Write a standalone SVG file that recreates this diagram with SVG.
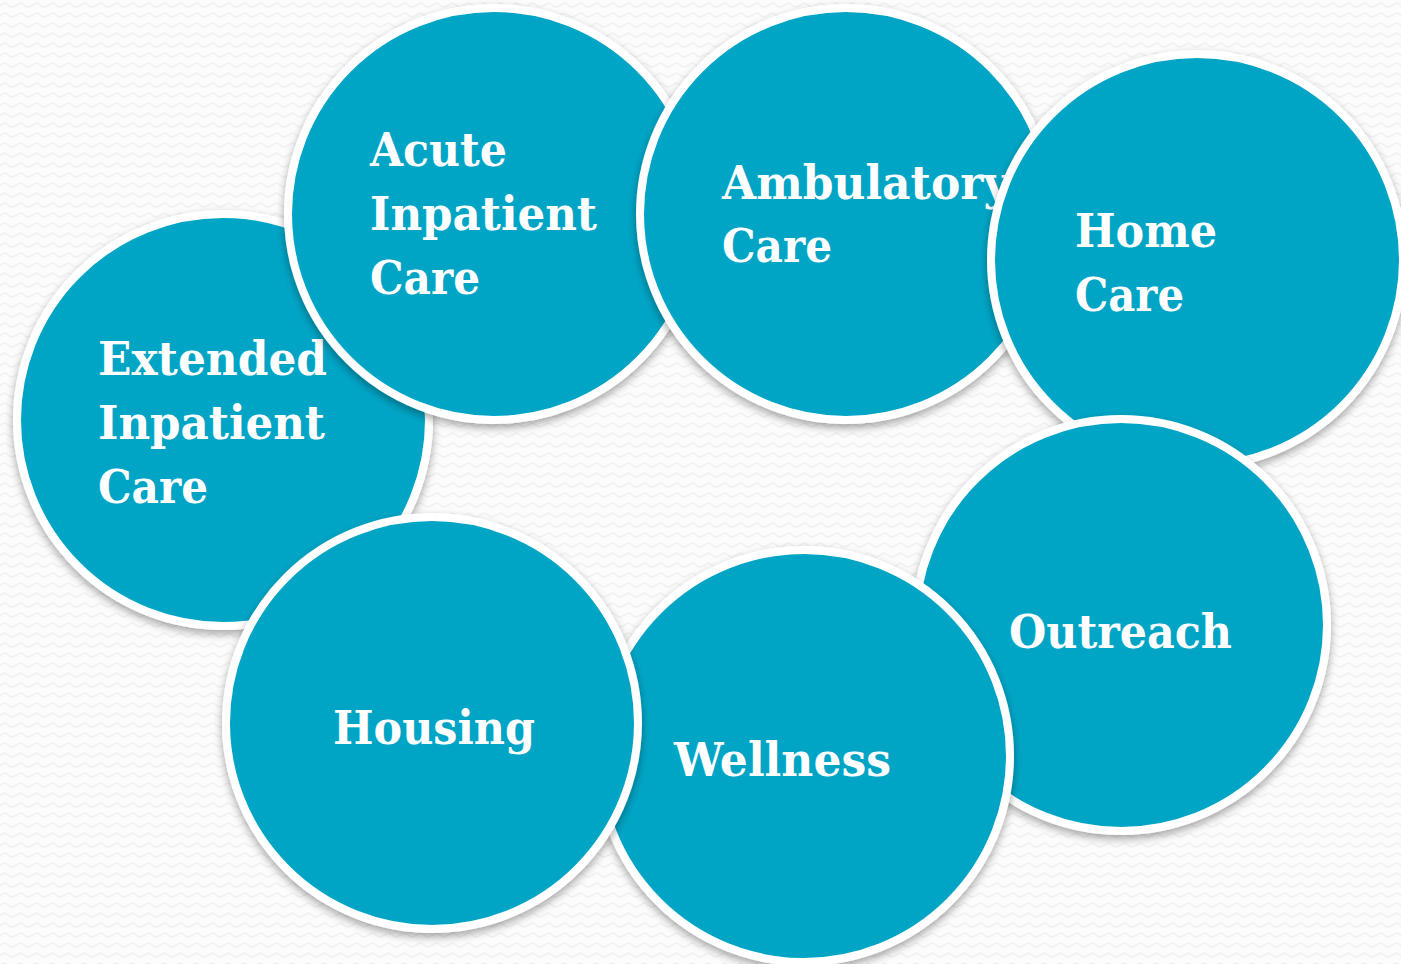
<svg xmlns="http://www.w3.org/2000/svg" width="1401" height="964" viewBox="0 0 1401 964">
  <defs>
    <pattern id="bg" width="16" height="10" patternUnits="userSpaceOnUse">
      <rect width="16" height="10" fill="#fcfcfc"/>
      <path d="M0 6 Q4 1 8 5 T16 5" fill="none" stroke="#f0f0f0" stroke-width="1.3"/>
    </pattern>
    <filter id="sh" x="-10%" y="-10%" width="120%" height="125%">
      <feDropShadow dx="0" dy="4" stdDeviation="4" flood-color="#000" flood-opacity="0.35"/>
    </filter>
  </defs>
  <style>
    .c { fill: #02a5c6; stroke: #ffffff; stroke-width: 8; filter: url(#sh); }
    .t { fill: #ffffff; font-family: "DejaVu Serif", "Liberation Serif", serif; font-weight: bold; font-size: 46px; }
  </style>
  <rect width="1401" height="964" fill="url(#bg)"/>
  <g id="connectors"/>
  <g id="extended">
    <circle class="c" cx="223" cy="420" r="206"/>
    <text class="t" x="98" y="375" textLength="229" lengthAdjust="spacingAndGlyphs">Extended</text>
    <text class="t" x="98" y="439" textLength="227" lengthAdjust="spacingAndGlyphs">Inpatient</text>
    <text class="t" x="98" y="503" textLength="110" lengthAdjust="spacingAndGlyphs">Care</text>
  </g>
  <g id="acute">
    <circle class="c" cx="494" cy="214" r="206"/>
    <text class="t" x="370" y="166" textLength="137" lengthAdjust="spacingAndGlyphs">Acute</text>
    <text class="t" x="370" y="230" textLength="227" lengthAdjust="spacingAndGlyphs">Inpatient</text>
    <text class="t" x="370" y="294" textLength="110" lengthAdjust="spacingAndGlyphs">Care</text>
  </g>
  <g id="ambulatory">
    <circle class="c" cx="846" cy="214" r="206"/>
    <text class="t" x="722" y="199" textLength="287" lengthAdjust="spacingAndGlyphs">Ambulatory</text>
    <text class="t" x="722" y="262" textLength="110" lengthAdjust="spacingAndGlyphs">Care</text>
  </g>
  <g id="home">
    <circle class="c" cx="1197" cy="260" r="206"/>
    <text class="t" x="1075" y="247" textLength="142" lengthAdjust="spacingAndGlyphs">Home</text>
    <text class="t" x="1075" y="311" textLength="109" lengthAdjust="spacingAndGlyphs">Care</text>
  </g>
  <g id="outreach">
    <circle class="c" cx="1121" cy="625" r="206"/>
    <text class="t" x="1009" y="648" textLength="223" lengthAdjust="spacingAndGlyphs">Outreach</text>
  </g>
  <g id="wellness">
    <circle class="c" cx="804" cy="756" r="206"/>
    <text class="t" x="674" y="776" textLength="217" lengthAdjust="spacingAndGlyphs">Wellness</text>
  </g>
  <g id="housing">
    <circle class="c" cx="432" cy="723" r="206"/>
    <text class="t" x="333" y="744" textLength="202" lengthAdjust="spacingAndGlyphs">Housing</text>
  </g>
</svg>
